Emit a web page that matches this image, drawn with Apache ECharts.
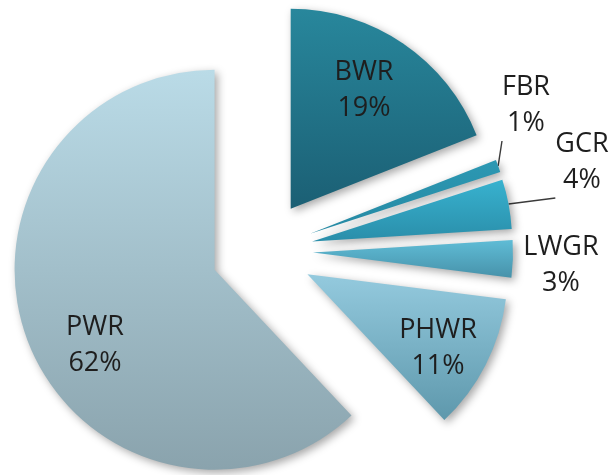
<!DOCTYPE html>
<html>
<head>
<meta charset="utf-8">
<script src="https://cdn.jsdelivr.net/npm/echarts@6/dist/echarts.min.js"></script>
<style>
  html, body { margin: 0; padding: 0; background: #fff; }
  #chart { width: 609px; height: 475px; }
</style>
</head>
<body>
<div id="chart"></div>
<script>
// reactor types and their share
const reactorTypes = ['BWR', 'FBR', 'GCR', 'LWGR', 'PHWR', 'PWR'];
const shares = [19, 1, 4, 3, 11, 62];

// top / bottom gradient colours per slice
const sliceColors = [
  ['#28879c', '#1b5f74'],
  ['#2c98b3', '#2689a3'],
  ['#38b2cf', '#2a8eaa'],
  ['#5fbcd6', '#4792aa'],
  ['#94cade', '#5e98ac'],
  ['#badbe7', '#8aa3ad'],
];

// label block centres, and which labels get a leader line
const labelSpots = {
  BWR: [364, 90], FBR: [526, 105], GCR: [582, 162],
  LWGR: [561, 265], PHWR: [438, 348], PWR: [95, 345],
};
const withLeader = ['FBR', 'GCR'];

const pieCenter = [262, 251];
const pieRadius = 200;
const explode = 51;

const chart = echarts.init(document.getElementById('chart'));

// one pie per slice, each pie pushed out along its slice's mid angle
const total = shares.reduce((a, b) => a + b, 0);
let acc = 0;
const series = reactorTypes.map((name, i) => {
  const mid = (acc + shares[i] / 2) / total * 2 * Math.PI;
  acc += shares[i];
  const cx = pieCenter[0] + explode * Math.sin(mid);
  const cy = pieCenter[1] - explode * Math.cos(mid);
  // leader line starts at the middle of the slice's outer arc
  const arcMid = [cx + pieRadius * Math.sin(mid), cy - pieRadius * Math.cos(mid)];
  return {
    type: 'pie',
    center: [cx, cy],
    radius: pieRadius,
    startAngle: 90,
    clockwise: true,
    avoidLabelOverlap: false,
    emphasis: { disabled: true },
    label: {
      fontFamily: 'Open Sans',
      fontSize: 27,
      lineHeight: 36,
      color: '#1e1e1e',
      formatter: p => p.name + '\n' + p.value + '%',
    },
    labelLine: {
      length: 10,
      length2: 0,
      lineStyle: { color: '#3a3a3a', width: 1.4 },
    },
    labelLayout: p => {
      const spot = labelSpots[reactorTypes[p.dataIndex]];
      const w = p.labelRect.width;
      const h = p.labelRect.height;
      const left = spot[0] - w / 2;
      const top = spot[1] - h / 2;
      // nearest point of the label box to the arc middle
      const end = [
        Math.min(Math.max(arcMid[0], left), left + w),
        Math.min(Math.max(arcMid[1], top), top + h),
      ];
      return {
        x: spot[0],
        y: spot[1],
        align: 'center',
        verticalAlign: 'middle',
        labelLinePoints: [arcMid, end, end],
      };
    },
    data: reactorTypes.map((n, j) => {
      if (j !== i) {
        return {
          name: n,
          value: shares[j],
          itemStyle: { color: 'rgba(0,0,0,0)' },
          label: { show: false },
          labelLine: { show: false },
        };
      }
      return {
        name: n,
        value: shares[j],
        itemStyle: {
          color: {
            type: 'linear', x: 0, y: 0, x2: 0, y2: 1,
            colorStops: [
              { offset: 0, color: sliceColors[j][0] },
              { offset: 1, color: sliceColors[j][1] },
            ],
          },
          shadowBlur: 8,
          shadowOffsetX: 3,
          shadowOffsetY: 3,
          shadowColor: 'rgba(0,0,0,0.35)',
        },
        label: { position: withLeader.includes(n) ? 'outside' : 'inside' },
        labelLine: { show: withLeader.includes(n) },
      };
    }),
  };
});

chart.setOption({ animation: false, series });
</script>
</body>
</html>
